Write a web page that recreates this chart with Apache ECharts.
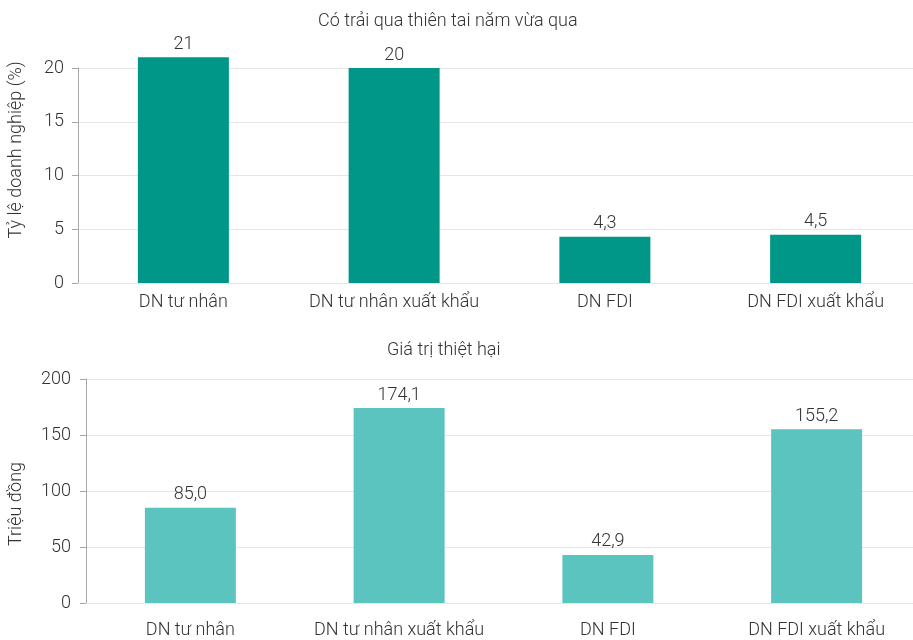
<!DOCTYPE html>
<html>
<head>
<meta charset="utf-8">
<script src="https://cdn.jsdelivr.net/npm/echarts@6/dist/echarts.min.js"></script>
<style>
html,body{margin:0;padding:0;background:#fff;}
#main{width:913px;height:640px;}
</style>
</head>
<body>
<div id="main"></div>
<script>
const categories = ['DN tư nhân', 'DN tư nhân xuất khẩu', 'DN FDI', 'DN FDI xuất khẩu'];
const shareValues = [21, 20, 4.3, 4.5];
const damageValues = [85.0, 174.1, 42.9, 155.2];
const shareTicks = [0, 5, 10, 15, 20];
const damageTicks = [0, 50, 100, 150, 200];
const topTitle = 'Có trải qua thiên tai năm vừa qua';
const bottomTitle = 'Giá trị thiệt hại';
const topAxisName = 'Tỷ lệ doanh nghiệp (%)';
const bottomAxisName = 'Triệu đồng';

const FONT = 'Roboto';
const TXT = '#333';
const LBL = 18;
const chart = echarts.init(document.getElementById('main'), null, {renderer: 'canvas'});

function yAxisCfg(gridIndex, ticks, margin) {
  return {
    type: 'value', gridIndex,
    min: ticks[0], max: ticks[ticks.length - 1],
    interval: ticks[1] - ticks[0],
    axisLine: {show: true, lineStyle: {color: '#a8a8a8', width: 1}},
    axisTick: {show: true, length: 6, lineStyle: {color: '#a8a8a8'}},
    axisLabel: {color: TXT, fontFamily: FONT, fontSize: LBL, fontWeight: 300, margin},
    splitLine: {show: true, lineStyle: {color: '#e6e6e6'}}
  };
}
function xAxisCfg(gridIndex, margin) {
  return {
    type: 'category', gridIndex, data: categories,
    axisLine: {show: true, lineStyle: {color: '#e6e6e6'}},
    axisTick: {show: false},
    axisLabel: {color: TXT, fontFamily: FONT, fontSize: LBL, fontWeight: 300, margin, interval: 0}
  };
}

chart.setOption({
  animation: false,
  textStyle: {fontFamily: FONT},
  title: [
    {text: topTitle, left: 313, top: 7, textStyle: {color: TXT, fontFamily: FONT, fontSize: 18, fontWeight: 300}},
    {text: bottomTitle, left: 382, top: 336, textStyle: {color: TXT, fontFamily: FONT, fontSize: 18, fontWeight: 300}}
  ],
  graphic: [
    {type: 'text', x: 16, y: 150, rotation: Math.PI / 2,
      style: {text: topAxisName, fill: TXT, font: '300 18px ' + FONT, textAlign: 'center', textVerticalAlign: 'middle'}},
    {type: 'text', x: 16, y: 504, rotation: Math.PI / 2,
      style: {text: bottomAxisName, fill: TXT, font: '300 18px ' + FONT, textAlign: 'center', textVerticalAlign: 'middle'}}
  ],
  grid: [
    {left: 78, width: 843, top: 68, height: 215, outerBoundsMode: 'none', containLabel: false},
    {left: 86, width: 835, top: 379, height: 224, outerBoundsMode: 'none', containLabel: false}
  ],
  xAxis: [xAxisCfg(0, 10), xAxisCfg(1, 18)],
  yAxis: [yAxisCfg(0, shareTicks, 14), yAxisCfg(1, damageTicks, 15)],
  series: [
    {type: 'bar', xAxisIndex: 0, yAxisIndex: 0, data: shareValues, barWidth: 91, clip: false,
      itemStyle: {color: '#009688'},
      label: {show: true, position: 'top', distance: 4, color: TXT, fontFamily: FONT, fontSize: LBL, fontWeight: 300,
        formatter: p => String(p.value).replace('.', ',')}},
    {type: 'bar', xAxisIndex: 1, yAxisIndex: 1, data: damageValues, barWidth: 91, clip: false,
      itemStyle: {color: '#5bc4be'},
      label: {show: true, position: 'top', distance: 4, color: TXT, fontFamily: FONT, fontSize: LBL, fontWeight: 300,
        formatter: p => p.value.toFixed(1).replace('.', ',')}}
  ]
});
</script>
</body>
</html>
